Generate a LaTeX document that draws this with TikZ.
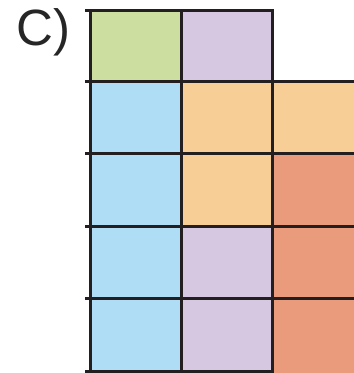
\documentclass[tikz,border=0pt]{standalone}
\usepackage{fontspec}
\setmainfont{Liberation Sans}
\definecolor{cgreen}{HTML}{CCDFA0}
\definecolor{cpurple}{HTML}{D6C8E1}
\definecolor{cblue}{HTML}{AEDDF5}
\definecolor{cpeach}{HTML}{F7CF96}
\definecolor{csalmon}{HTML}{E99B7C}
\definecolor{cline}{HTML}{231F20}
\begin{document}
\begin{tikzpicture}[x=1pt,y=-1pt,
  gridline/.style={draw=cline,line width=3pt}]
\useasboundingbox (0,0) rectangle (354,373);
% cells
\fill[cgreen] (90,10) rectangle (181,81);
\fill[cpurple] (181,10) rectangle (272,81);
\fill[cblue] (90,81) rectangle (181,371);
\fill[cpeach] (181,81) rectangle (272,226);
\fill[cpeach] (272,81) rectangle (354,153);
\fill[csalmon] (272,153) rectangle (354,373);
\fill[cpurple] (181,226) rectangle (272,371);
% horizontal lines
\draw[gridline] (85,10) -- (273.5,10);
\draw[gridline] (85,81) -- (354,81);
\draw[gridline] (85,153) -- (354,153);
\draw[gridline] (85,226) -- (354,226);
\draw[gridline] (85,298) -- (354,298);
\draw[gridline] (85,371) -- (273.5,371);
% vertical lines
\draw[gridline] (90,10) -- (90,371);
\draw[gridline] (181,10) -- (181,371);
\draw[gridline] (272,10) -- (272,371);
% label
\node[anchor=base west,inner sep=0pt,text=black!85,font=\fontsize{51}{51}\selectfont] (lbl) at (16,45) {C)};
\end{tikzpicture}
\end{document}
